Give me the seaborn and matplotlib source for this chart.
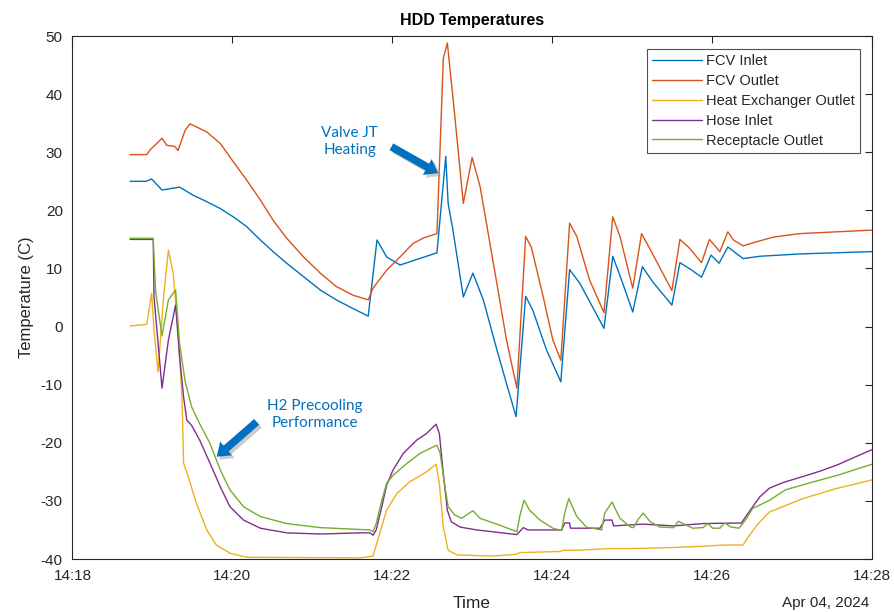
import numpy as np
import pandas as pd
import matplotlib
matplotlib.use("Agg")
import matplotlib.pyplot as plt
import matplotlib.dates as mdates
import matplotlib.patheffects as pe
import seaborn as sns

# minutes after 14:18 and temperatures (C)
fcv_in_t = [0.72, 0.92, 0.99, 1.12, 1.34, 1.51, 1.68, 1.85, 2.01, 2.18, 2.35, 2.51, 2.68, 2.89, 3.10,
            3.30, 3.51, 3.70, 3.81, 3.93, 4.06, 4.10, 4.56, 4.67, 4.70, 4.76, 4.89, 5.01, 5.14, 5.31,
            5.43, 5.55, 5.67, 5.76, 5.93, 6.11, 6.22, 6.35, 6.65, 6.76, 6.87, 7.01, 7.13, 7.26, 7.50,
            7.60, 7.75, 7.87, 7.99, 8.09, 8.20, 8.39, 8.60, 9.10, 10.0]
fcv_in_v = [25.0, 25.0, 25.4, 23.5, 24.0, 22.6, 21.5, 20.3, 18.9, 17.2, 14.9, 12.9, 10.9, 8.6, 6.3,
            4.6, 3.1, 1.8, 14.9, 12.0, 10.9, 10.6, 12.7, 29.3, 21.2, 16.6, 5.1, 9.2, 4.6, -4.0,
            -9.8, -15.5, 5.2, 2.8, -4.0, -9.5, 9.8, 7.4, -0.3, 12.1, 8.0, 2.5, 10.3, 7.7, 3.7,
            11.0, 9.7, 8.5, 12.3, 10.9, 13.7, 11.7, 12.1, 12.5, 12.9]

fcv_out_t = [0.72, 0.93, 0.97, 1.12, 1.18, 1.28, 1.32, 1.41, 1.47, 1.68, 1.85, 2.01, 2.18, 2.35, 2.51,
             2.68, 2.89, 3.10, 3.30, 3.51, 3.70, 3.76, 3.93, 4.10, 4.26, 4.40, 4.56, 4.64, 4.69, 4.78,
             4.89, 5.00, 5.10, 5.31, 5.43, 5.56, 5.67, 5.74, 5.89, 6.01, 6.11, 6.22, 6.31, 6.47, 6.65,
             6.76, 6.85, 7.01, 7.12, 7.22, 7.50, 7.60, 7.72, 7.87, 7.97, 8.10, 8.20, 8.27, 8.39, 8.56,
             8.77, 9.10, 10.0]
fcv_out_v = [29.6, 29.6, 30.4, 32.4, 31.2, 31.0, 30.3, 33.8, 34.9, 33.5, 31.5, 28.4, 25.2, 21.8, 18.3,
             15.2, 12.0, 9.2, 6.9, 5.4, 4.6, 6.6, 9.7, 12.0, 14.3, 15.3, 16.0, 46.2, 48.8, 36.7,
             21.2, 29.1, 24.1, 7.4, -2.3, -10.6, 15.5, 13.7, 5.1, -2.3, -5.8, 17.8, 15.5, 8.0, 2.4,
             18.9, 15.5, 6.6, 16.0, 13.5, 6.2, 15.0, 13.5, 11.0, 15.0, 12.9, 16.3, 14.9, 13.9, 14.6,
             15.4, 16.0, 16.6]

hx_out_t = [0.72, 0.93, 0.99, 1.02, 1.07, 1.14, 1.20, 1.26, 1.32, 1.37, 1.39, 1.45, 1.55, 1.68, 1.80,
            1.97, 2.18, 3.60, 3.76, 3.82, 3.93, 4.06, 4.22, 4.43, 4.55, 4.59, 4.64, 4.70, 4.81, 5.26,
            5.54, 5.60, 6.10, 6.14, 6.31, 6.72, 7.02, 7.56, 7.89, 8.14, 8.39, 8.47, 8.58, 8.72, 9.14,
            9.55, 10.0]
hx_out_v = [0.1, 0.4, 5.7, -0.6, -7.8, 5.1, 13.2, 9.2, -0.6, -12.1, -23.5, -25.9, -30.4, -35.0, -37.6,
            -39.0, -39.7, -39.8, -39.5, -36.7, -31.6, -28.7, -26.7, -25.0, -23.7, -27.0, -34.5, -38.5, -39.3, -39.5,
            -39.2, -38.9, -38.7, -38.5, -38.5, -38.2, -38.2, -38.0, -37.8, -37.6, -37.6, -35.9, -33.9, -31.9, -29.6,
            -27.9, -26.4]

hose_in_t = [0.72, 1.01, 1.02, 1.12, 1.20, 1.29, 1.34, 1.39, 1.43, 1.49, 1.59, 1.72, 1.85, 1.97, 2.14,
             2.35, 2.68, 3.10, 3.60, 3.72, 3.76, 3.80, 3.87, 3.93, 4.01, 4.14, 4.31, 4.43, 4.55, 4.59,
             4.64, 4.69, 4.74, 4.85, 4.93, 5.06, 5.56, 5.64, 5.70, 6.12, 6.16, 6.22, 6.23, 6.60, 6.66,
             6.75, 6.77, 7.14, 7.52, 7.89, 8.37, 8.48, 8.60, 8.72, 8.90, 9.14, 9.35, 9.57, 9.80, 10.0]
hose_in_v = [15.0, 15.0, 5.1, -10.6, -2.3, 3.7, -5.2, -12.1, -16.1, -17.0, -19.5, -23.5, -27.6, -31.0, -33.3,
             -34.7, -35.5, -35.7, -35.5, -35.5, -35.9, -35.0, -31.0, -27.3, -24.7, -21.8, -19.5, -18.4, -16.8, -18.4,
             -25.3, -31.6, -33.6, -34.5, -34.7, -35.0, -35.8, -34.6, -35.0, -35.0, -33.8, -33.8, -34.7, -34.7, -33.3,
             -33.3, -34.3, -34.0, -34.3, -33.9, -33.8, -31.6, -29.3, -27.8, -26.8, -25.8, -24.9, -23.8, -22.4, -21.2]

recep_out_t = [0.72, 1.01, 1.04, 1.12, 1.20, 1.29, 1.34, 1.41, 1.49, 1.59, 1.72, 1.85, 1.97, 2.14, 2.35,
               2.68, 3.10, 3.72, 3.76, 3.80, 3.87, 3.93, 4.01, 4.18, 4.35, 4.56, 4.60, 4.66, 4.70, 4.78,
               4.87, 4.93, 5.01, 5.10, 5.35, 5.56, 5.60, 5.65, 5.72, 5.85, 6.01, 6.12, 6.16, 6.21, 6.31,
               6.43, 6.62, 6.66, 6.75, 6.85, 6.98, 7.02, 7.07, 7.14, 7.23, 7.35, 7.52, 7.58, 7.64, 7.76,
               7.89, 7.95, 8.01, 8.10, 8.16, 8.24, 8.34, 8.42, 8.51, 8.72, 8.92, 9.25, 9.57, 10.0]
recep_out_v = [15.2, 15.2, 6.0, -1.6, 4.6, 6.3, -2.9, -9.5, -13.8, -16.7, -20.1, -24.7, -28.1, -31.0, -32.7,
               -33.9, -34.6, -35.0, -35.3, -33.9, -29.9, -27.0, -25.6, -23.6, -21.8, -20.4, -21.8, -27.6, -31.0, -32.4,
               -33.0, -32.4, -31.7, -33.0, -34.2, -35.3, -32.4, -29.9, -31.6, -33.3, -34.7, -35.1, -32.0, -29.6, -32.7,
               -34.5, -35.0, -32.1, -30.2, -33.0, -34.5, -34.6, -33.3, -32.1, -33.6, -34.5, -34.6, -33.5, -33.9, -34.7,
               -34.6, -33.9, -34.7, -34.7, -33.8, -34.5, -34.7, -33.3, -31.3, -29.9, -28.1, -26.8, -25.6, -23.7]

series_names = ["FCV Inlet", "FCV Outlet", "Heat Exchanger Outlet", "Hose Inlet", "Receptacle Outlet"]
series_colors = ["#0072BD", "#D95319", "#EDB120", "#7E2F8E", "#77AC30"]

start = pd.Timestamp("2024-04-04 14:18:00")
frames = []
for name, t, v in zip(series_names,
                      [fcv_in_t, fcv_out_t, hx_out_t, hose_in_t, recep_out_t],
                      [fcv_in_v, fcv_out_v, hx_out_v, hose_in_v, recep_out_v]):
    frames.append(pd.DataFrame({"Time": start + pd.to_timedelta(t, unit="min"),
                                "Temperature": v, "Sensor": name}))
df = pd.concat(frames, ignore_index=True)

sns.set_style("white")
plt.rcParams["font.family"] = ["Liberation Sans", "DejaVu Sans"]
plt.rcParams["axes.unicode_minus"] = False

fig = plt.figure(figsize=(8.95, 6.12), dpi=100)
ax = fig.add_axes([0.081, 0.0866, 0.893, 0.8545])

sns.lineplot(data=df, x="Time", y="Temperature", hue="Sensor", hue_order=series_names,
             palette=series_colors, estimator=None, sort=True, linewidth=1.0, ax=ax)

def tm(m):
    return mdates.date2num(start + pd.Timedelta(minutes=m))

ax.set_xlim(tm(0), tm(10))
ax.set_ylim(-40, 50)
ax.set_yticks(np.arange(-40, 51, 10))
ax.xaxis.set_major_locator(mdates.MinuteLocator(byminute=range(0, 60, 2)))
ax.xaxis.set_major_formatter(mdates.DateFormatter("%H:%M"))
ax.tick_params(direction="in", top=True, right=True, length=5, width=0.8,
               labelsize=11, colors="#262626", labelcolor="#262626", pad=7)
for s in ax.spines.values():
    s.set_color("#262626")
    s.set_linewidth(0.8)

ax.set_title("HDD Temperatures", fontsize=11.5, fontweight="bold", color="black", pad=8)
ax.set_xlabel("")
ax.text(0.5, -0.085, "Time", transform=ax.transAxes, ha="center", va="center",
        fontsize=12.5, color="#262626")
ax.set_ylabel("Temperature (C)", fontsize=12, color="#262626", labelpad=5)
ax.text(0.997, -0.085, "Apr 04, 2024", transform=ax.transAxes, ha="right", va="center",
        fontsize=11, color="#262626")

leg = ax.legend(loc="upper right", bbox_to_anchor=(0.985, 0.975), fontsize=10.5, frameon=True,
                fancybox=False, edgecolor="#262626", handlelength=3.4, labelspacing=0.4,
                borderpad=0.35, handletextpad=0.3, borderaxespad=0.0)
leg.get_frame().set_linewidth(0.8)

note_color = "#0070C0"
ax.text(tm(3.47), 31.8, "Valve JT\nHeating", ha="center", va="center", fontsize=11,
        color=note_color, family=["Lato", "DejaVu Sans"], linespacing=1.3)
ax.text(tm(3.03), -15.1, "H2 Precooling\nPerformance", ha="center", va="center", fontsize=11,
        color=note_color, family=["Lato", "DejaVu Sans"], linespacing=1.3)

arrow_style = "simple,head_length=9,head_width=13,tail_width=5.5"
shadow = [pe.SimplePatchShadow(offset=(2, -2), shadow_rgbFace="#999999", alpha=0.5), pe.Normal()]
for tail, tip in [((3.99, 30.95), (4.575, 26.4)), ((2.304, -16.4), (1.804, -22.4))]:
    ax.annotate("", xy=(tm(tip[0]), tip[1]), xytext=(tm(tail[0]), tail[1]),
                arrowprops=dict(arrowstyle=arrow_style, color=note_color, lw=0,
                                mutation_scale=1, shrinkA=0, shrinkB=0,
                                path_effects=shadow))

fig.savefig("out.png", dpi=100)
